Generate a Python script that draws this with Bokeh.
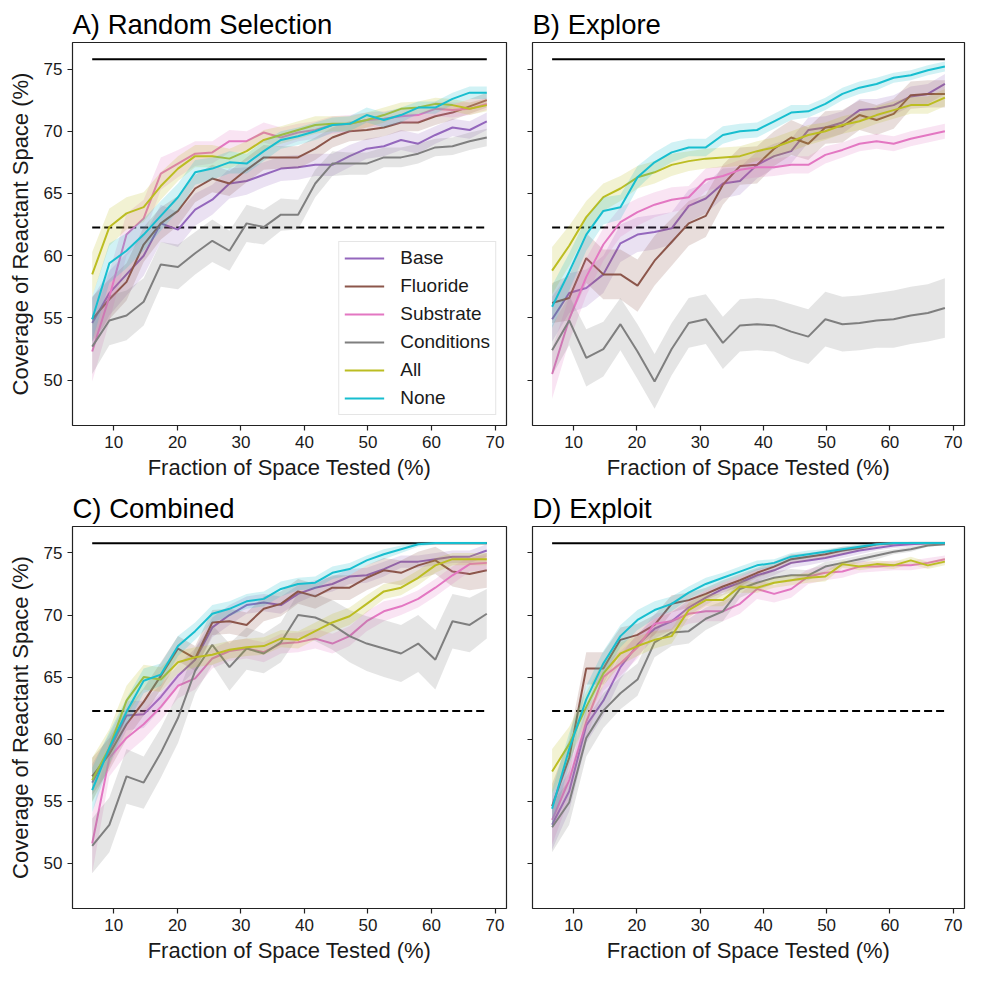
from bokeh.plotting import figure
from bokeh.models import Range1d, Legend, LegendItem, FixedTicker, CustomLabelingPolicy
from bokeh.layouts import column, row
from bokeh.embed import file_html
from bokeh.resources import INLINE

# ---------------- data ----------------
x_tested = [6.6, 9.3, 12.0, 14.7, 17.4, 20.1, 22.8, 25.5, 28.2, 30.9, 33.6, 36.3,
            39.0, 41.7, 44.4, 47.1, 49.8, 52.5, 55.2, 57.9, 60.6, 63.3, 66.0, 68.7]
series_names = ["Base", "Fluoride", "Substrate", "Conditions", "All", "None"]
series_colors = ["#9467bd", "#8c564b", "#e377c2", "#7f7f7f", "#bcbd22", "#17becf"]
x_ticks = [10, 20, 30, 40, 50, 60, 70]
y_ticks = [50, 55, 60, 65, 70, 75]
max_coverage = 75.78
threshold = 62.26

# A) Random Selection
rand_base = [54.6, 57.0, 58.5, 60.0, 62.6, 62.1, 63.7, 64.5, 65.8, 66.0, 66.5, 67.0, 67.1, 67.3, 67.3, 68.0, 68.6, 68.8, 69.3, 69.0, 69.7, 70.3, 70.1, 70.8]
rand_fluoride = [54.9, 56.5, 57.9, 60.9, 62.6, 63.6, 65.4, 66.2, 65.8, 66.9, 67.9, 67.9, 67.9, 68.6, 69.5, 70.0, 70.1, 70.3, 70.7, 70.7, 71.2, 71.5, 72.0, 72.5]
rand_substrate = [52.3, 56.7, 61.7, 63.0, 66.6, 67.4, 68.2, 68.3, 69.2, 69.2, 69.9, 69.5, 69.9, 70.1, 70.5, 70.6, 70.9, 71.0, 71.2, 71.3, 71.8, 71.7, 71.8, 72.2]
rand_conditions = [52.7, 54.8, 55.2, 56.3, 59.3, 59.1, 60.2, 61.2, 60.4, 62.6, 62.3, 63.3, 63.3, 65.8, 67.4, 67.4, 67.4, 67.9, 67.9, 68.2, 68.7, 68.8, 69.2, 69.5]
rand_all = [58.5, 62.3, 63.4, 63.9, 65.6, 67.0, 68.0, 68.0, 67.8, 68.4, 69.3, 69.7, 70.1, 70.5, 70.6, 70.6, 70.9, 71.3, 71.8, 71.9, 72.2, 72.1, 71.8, 72.1]
rand_none = [54.9, 59.4, 60.4, 61.7, 63.2, 64.7, 66.7, 67.0, 67.5, 67.4, 68.4, 69.3, 69.6, 70.0, 70.5, 70.6, 71.3, 70.9, 71.3, 71.9, 71.9, 72.6, 73.1, 73.1]
rand_base_ci = [2.0, 1.8, 1.7, 1.6, 1.5, 1.4, 1.3, 1.2, 1.2, 1.1, 1.0, 1.0, 1.0, 0.9, 0.9, 0.9, 0.8, 0.8, 0.8, 0.8, 0.7, 0.7, 0.7, 0.7]
rand_fluoride_ci = [1.8, 1.6, 1.5, 1.4, 1.3, 1.2, 1.1, 1.1, 1.0, 1.0, 1.0, 0.9, 0.9, 0.9, 0.8, 0.8, 0.8, 0.7, 0.7, 0.7, 0.7, 0.6, 0.6, 0.6]
rand_substrate_ci = [2.4, 2.0, 1.7, 1.5, 1.3, 1.1, 1.0, 0.9, 0.9, 0.8, 0.8, 0.8, 0.7, 0.7, 0.7, 0.7, 0.6, 0.6, 0.6, 0.6, 0.6, 0.6, 0.5, 0.5]
rand_conditions_ci = [2.2, 2.0, 2.0, 1.9, 1.8, 1.8, 1.7, 1.7, 1.6, 1.5, 1.4, 1.3, 1.2, 1.1, 1.0, 0.9, 0.9, 0.8, 0.8, 0.8, 0.7, 0.7, 0.7, 0.7]
rand_all_ci = [1.8, 1.5, 1.3, 1.2, 1.1, 1.0, 0.9, 0.9, 0.8, 0.8, 0.8, 0.7, 0.7, 0.7, 0.6, 0.6, 0.6, 0.6, 0.5, 0.5, 0.5, 0.5, 0.5, 0.5]
rand_none_ci = [1.8, 1.6, 1.4, 1.3, 1.2, 1.1, 1.0, 0.9, 0.9, 0.8, 0.8, 0.7, 0.7, 0.7, 0.6, 0.6, 0.6, 0.6, 0.6, 0.5, 0.5, 0.5, 0.5, 0.5]

# B) Explore
expl_base = [54.9, 57.0, 57.4, 58.5, 61.0, 61.7, 61.9, 62.2, 64.0, 64.6, 65.8, 66.0, 67.3, 68.0, 68.4, 70.1, 70.3, 70.7, 71.7, 71.8, 72.1, 72.8, 73.0, 73.8]
expl_fluoride = [56.2, 56.6, 59.8, 58.5, 58.5, 57.6, 59.6, 61.1, 62.6, 63.2, 65.7, 67.2, 67.3, 68.6, 69.5, 69.0, 70.3, 70.4, 71.3, 70.9, 71.4, 72.9, 73.0, 73.0]
expl_substrate = [50.5, 54.9, 58.3, 60.9, 62.7, 63.5, 64.1, 64.5, 64.7, 66.1, 66.4, 66.9, 67.1, 67.1, 67.3, 67.3, 68.1, 68.5, 69.0, 69.2, 69.0, 69.4, 69.7, 70.0]
expl_conditions = [52.4, 54.8, 51.8, 52.5, 54.5, 52.3, 49.9, 52.5, 54.6, 54.9, 53.0, 54.4, 54.5, 54.4, 53.9, 53.5, 54.9, 54.5, 54.6, 54.8, 54.9, 55.2, 55.4, 55.8]
expl_all = [58.8, 60.8, 63.1, 64.7, 65.4, 66.3, 66.7, 67.3, 67.6, 67.8, 67.9, 68.0, 68.4, 68.7, 69.2, 69.7, 70.0, 70.5, 70.8, 71.3, 71.7, 72.1, 72.1, 72.7]
expl_none = [55.9, 58.7, 61.7, 63.6, 63.9, 66.3, 67.5, 68.3, 68.7, 68.7, 69.7, 70.0, 70.1, 70.8, 71.5, 71.6, 72.2, 73.0, 73.5, 73.8, 74.3, 74.5, 74.9, 75.2]
expl_base_ci = [1.8, 1.6, 1.5, 1.5, 1.5, 1.4, 1.4, 1.3, 1.3, 1.2, 1.2, 1.1, 1.1, 1.0, 1.0, 1.0, 0.9, 0.9, 0.9, 0.8, 0.8, 0.8, 0.8, 0.8]
expl_fluoride_ci = [1.6, 1.8, 2.0, 2.0, 2.0, 2.1, 2.0, 1.9, 1.8, 1.7, 1.6, 1.5, 1.5, 1.4, 1.4, 1.3, 1.3, 1.3, 1.2, 1.2, 1.2, 1.1, 1.1, 1.1]
expl_substrate_ci = [2.0, 1.8, 1.5, 1.3, 1.2, 1.1, 1.0, 1.0, 0.9, 0.9, 0.8, 0.8, 0.8, 0.7, 0.7, 0.7, 0.7, 0.6, 0.6, 0.6, 0.6, 0.6, 0.6, 0.6]
expl_conditions_ci = [2.0, 2.0, 2.3, 2.2, 2.1, 2.2, 2.2, 2.1, 2.0, 2.0, 2.1, 2.1, 2.1, 2.1, 2.2, 2.2, 2.2, 2.2, 2.2, 2.2, 2.3, 2.3, 2.3, 2.4]
expl_all_ci = [1.9, 1.6, 1.3, 1.1, 1.0, 0.9, 0.9, 0.9, 0.8, 0.8, 0.8, 0.8, 0.8, 0.8, 0.8, 0.8, 0.7, 0.7, 0.7, 0.7, 0.7, 0.7, 0.7, 0.7]
expl_none_ci = [1.7, 1.5, 1.3, 1.1, 1.0, 0.9, 0.8, 0.8, 0.7, 0.7, 0.7, 0.6, 0.6, 0.6, 0.6, 0.5, 0.5, 0.5, 0.5, 0.5, 0.4, 0.4, 0.4, 0.4]

# C) Combined
comb_base = [56.5, 59.1, 61.9, 62.0, 63.4, 65.1, 66.4, 69.0, 70.0, 70.8, 71.0, 70.8, 71.7, 72.2, 72.5, 73.1, 73.2, 73.7, 74.3, 74.3, 74.5, 74.7, 74.7, 75.2]
comb_fluoride = [57.0, 58.8, 61.2, 63.0, 65.1, 67.3, 66.5, 69.4, 69.5, 69.2, 70.5, 70.9, 71.9, 71.5, 72.2, 72.2, 73.0, 73.6, 73.4, 74.0, 74.4, 73.5, 73.3, 73.6]
comb_substrate = [51.6, 58.5, 60.1, 61.2, 62.6, 64.3, 64.9, 66.5, 67.1, 67.3, 67.0, 67.7, 67.8, 68.1, 67.7, 68.3, 69.5, 70.3, 70.7, 71.3, 72.2, 73.2, 74.1, 74.2]
comb_conditions = [51.4, 53.1, 57.0, 56.5, 58.9, 61.7, 65.5, 67.6, 65.8, 67.3, 66.9, 67.8, 70.0, 69.8, 69.2, 68.3, 67.7, 67.3, 66.9, 67.7, 66.4, 69.5, 69.2, 70.1]
comb_all = [56.7, 59.3, 63.1, 65.0, 64.8, 66.2, 66.6, 66.8, 67.2, 67.4, 67.5, 68.1, 68.0, 68.7, 69.4, 69.9, 70.9, 71.9, 72.2, 73.0, 74.0, 74.5, 74.5, 74.5]
comb_none = [55.9, 59.3, 62.2, 64.7, 65.2, 67.5, 68.7, 70.1, 70.5, 71.1, 71.3, 72.1, 72.5, 72.6, 73.4, 73.7, 74.4, 74.9, 75.3, 75.7, 75.8, 75.8, 75.8, 75.8]
comb_base_ci = [1.5, 1.3, 1.2, 1.1, 1.0, 0.9, 0.9, 0.8, 0.8, 0.7, 0.7, 0.7, 0.7, 0.6, 0.6, 0.6, 0.6, 0.6, 0.5, 0.5, 0.5, 0.5, 0.5, 0.5]
comb_fluoride_ci = [1.5, 1.3, 1.2, 1.1, 1.1, 1.0, 1.0, 1.0, 1.0, 1.0, 1.0, 1.0, 1.0, 1.0, 1.0, 1.0, 1.0, 1.0, 1.0, 1.1, 1.1, 1.2, 1.3, 1.4]
comb_substrate_ci = [2.4, 1.5, 1.3, 1.2, 1.1, 1.0, 0.9, 0.8, 0.8, 0.8, 0.8, 0.8, 0.8, 0.8, 0.8, 0.8, 0.8, 0.8, 0.7, 0.7, 0.7, 0.7, 0.6, 0.6]
comb_conditions_ci = [2.2, 2.2, 2.2, 2.1, 2.0, 2.0, 1.8, 1.6, 1.9, 1.7, 1.6, 1.6, 1.8, 1.9, 2.0, 2.1, 2.2, 2.3, 2.3, 2.3, 2.4, 2.2, 2.2, 2.0]
comb_all_ci = [1.8, 1.5, 1.2, 1.0, 1.0, 0.9, 0.8, 0.8, 0.7, 0.7, 0.7, 0.7, 0.7, 0.7, 0.7, 0.7, 0.7, 0.6, 0.6, 0.6, 0.6, 0.5, 0.5, 0.5]
comb_none_ci = [1.8, 1.3, 1.1, 1.0, 0.9, 0.8, 0.7, 0.7, 0.6, 0.6, 0.6, 0.6, 0.5, 0.5, 0.5, 0.5, 0.4, 0.4, 0.3, 0.2, 0.1, 0.1, 0.1, 0.1]

# D) Exploit
expt_base = [53.1, 55.8, 61.1, 63.1, 65.8, 67.6, 68.9, 69.5, 70.6, 71.4, 72.1, 72.6, 73.2, 73.6, 74.2, 74.4, 74.6, 74.9, 75.2, 75.4, 75.6, 75.7, 75.8, 75.8]
expt_fluoride = [54.6, 58.5, 65.7, 65.7, 68.0, 68.4, 69.2, 70.9, 71.2, 71.7, 72.3, 72.8, 73.4, 73.9, 74.5, 74.7, 74.9, 75.2, 75.4, 75.7, 75.8, 75.8, 75.8, 75.8]
expt_substrate = [53.5, 56.7, 61.4, 65.0, 66.1, 67.4, 69.3, 69.5, 70.1, 70.3, 70.3, 70.9, 72.1, 71.7, 72.1, 73.1, 73.4, 73.5, 73.9, 73.9, 74.0, 74.0, 74.2, 74.5]
expt_conditions = [52.9, 54.9, 60.1, 62.3, 63.7, 64.8, 67.8, 68.6, 68.7, 69.7, 70.3, 72.1, 72.6, 73.0, 73.2, 73.2, 73.9, 74.2, 74.5, 74.8, 75.1, 75.3, 75.6, 75.7]
expt_all = [57.4, 59.6, 62.6, 65.3, 66.9, 67.5, 68.0, 68.3, 70.4, 71.2, 71.2, 72.3, 72.2, 72.6, 72.8, 73.0, 73.1, 74.1, 73.9, 74.1, 74.0, 74.4, 74.0, 74.3]
expt_none = [54.4, 59.2, 63.2, 66.1, 68.3, 69.6, 70.4, 70.9, 71.8, 72.5, 73.0, 73.5, 74.0, 74.2, 74.7, 74.9, 75.1, 75.3, 75.5, 75.7, 75.8, 75.8, 75.8, 75.8]
expt_base_ci = [2.0, 1.6, 1.4, 1.2, 1.0, 0.9, 0.8, 0.7, 0.6, 0.6, 0.5, 0.5, 0.5, 0.4, 0.4, 0.4, 0.3, 0.3, 0.3, 0.2, 0.2, 0.2, 0.1, 0.1]
expt_fluoride_ci = [1.8, 1.5, 1.3, 1.3, 1.0, 0.9, 0.8, 0.7, 0.6, 0.5, 0.5, 0.5, 0.4, 0.4, 0.4, 0.3, 0.3, 0.3, 0.2, 0.2, 0.1, 0.1, 0.1, 0.1]
expt_substrate_ci = [2.0, 1.5, 1.3, 1.1, 1.0, 0.9, 0.8, 0.8, 0.8, 0.8, 0.8, 0.8, 0.8, 0.7, 0.7, 0.6, 0.6, 0.5, 0.5, 0.4, 0.4, 0.4, 0.4, 0.3]
expt_conditions_ci = [2.0, 1.8, 1.5, 1.4, 1.3, 1.3, 1.2, 1.1, 1.0, 0.9, 0.8, 0.7, 0.6, 0.5, 0.5, 0.4, 0.4, 0.3, 0.3, 0.3, 0.2, 0.2, 0.1, 0.1]
expt_all_ci = [1.8, 1.4, 1.2, 1.0, 0.9, 0.8, 0.7, 0.6, 0.6, 0.5, 0.5, 0.5, 0.4, 0.4, 0.4, 0.4, 0.4, 0.3, 0.3, 0.3, 0.3, 0.3, 0.3, 0.3]
expt_none_ci = [1.5, 1.3, 1.1, 1.0, 0.9, 0.8, 0.7, 0.6, 0.5, 0.5, 0.4, 0.4, 0.4, 0.3, 0.3, 0.3, 0.2, 0.2, 0.2, 0.1, 0.1, 0.1, 0.1, 0.1]

# ---------------- plotting ----------------
FONT = "Liberation Sans"
TXT = "#1a1a1a"


def make_panel(title, means, cis, width, height, left, right, top, bottom,
               y_labels, with_legend):
    p = figure(width=width, height=height, output_backend="svg",
               toolbar_location=None,
               x_range=Range1d(3.5, 71.8), y_range=Range1d(46.36, 77.13),
               min_border_left=left, min_border_right=right,
               min_border_top=top, min_border_bottom=bottom)
    p.background_fill_color = "white"
    p.border_fill_color = "white"
    p.outline_line_color = "#222222"
    p.outline_line_width = 1.2
    p.xgrid.visible = False
    p.ygrid.visible = False

    p.title.text = title
    p.title.text_font = FONT
    p.title.text_font_size = "27.5px"
    p.title.text_font_style = "normal"
    p.title.text_color = "black"
    p.title.align = "left"
    p.title.standoff = 5

    for ax in (p.xaxis, p.yaxis):
        ax.axis_line_color = None
        ax.major_tick_line_color = "#222222"
        ax.major_tick_line_width = 1.2
        ax.major_tick_out = 5
        ax.major_tick_in = 0
        ax.minor_tick_line_color = None
        ax.major_label_text_font = FONT
        ax.major_label_text_font_size = "17px"
        ax.major_label_text_color = TXT
        ax.axis_label_text_font = FONT
        ax.axis_label_text_font_size = "22px"
        ax.axis_label_text_font_style = "normal"
        ax.axis_label_text_color = TXT
    p.xaxis.ticker = FixedTicker(ticks=x_ticks)
    p.yaxis.ticker = FixedTicker(ticks=y_ticks)
    p.xaxis.axis_label = "Fraction of Space Tested (%)"
    p.xaxis.axis_label_standoff = 4
    if y_labels:
        p.yaxis.axis_label = "Coverage of Reactant Space (%)"
        p.yaxis.axis_label_standoff = 8
    else:
        # shared y axis: ticks only, no labels
        p.yaxis.major_label_text_font_size = "0px"
        p.yaxis.major_label_standoff = 0
        p.yaxis.major_label_policy = CustomLabelingPolicy(code="return;")

    # reference lines spanning the tested range
    xs_ref = [x_tested[0], x_tested[-1]]
    p.line(xs_ref, [max_coverage, max_coverage], line_color="black", line_width=2)
    p.line(xs_ref, [threshold, threshold], line_color="black", line_width=2,
           line_dash="8 4")

    items = []
    for name, color, m, c in zip(series_names, series_colors, means, cis):
        lo = [a - b for a, b in zip(m, c)]
        hi = [a + b for a, b in zip(m, c)]
        p.varea(x=x_tested, y1=lo, y2=hi, fill_color=color, fill_alpha=0.2)
        r = p.line(x_tested, m, line_color=color, line_width=2)
        items.append(LegendItem(label=name, renderers=[r]))

    if with_legend:
        leg = Legend(items=items, location="bottom_right")
        leg.label_text_font = FONT
        leg.label_text_font_size = "19px"
        leg.label_text_color = TXT
        leg.glyph_width = 40
        leg.glyph_height = 22
        leg.label_height = 22
        leg.spacing = 6
        leg.padding = 5
        leg.margin = 10
        leg.label_standoff = 16
        leg.border_line_color = "#cccccc"
        leg.border_line_width = 1
        leg.background_fill_color = "white"
        leg.background_fill_alpha = 0.85
        p.add_layout(leg)
    return p


pA = make_panel("A) Random Selection",
                [rand_base, rand_fluoride, rand_substrate, rand_conditions, rand_all, rand_none],
                [rand_base_ci, rand_fluoride_ci, rand_substrate_ci, rand_conditions_ci, rand_all_ci, rand_none_ci],
                518, 482, 72, 12, 42, 54, True, True)
pB = make_panel("B) Explore",
                [expl_base, expl_fluoride, expl_substrate, expl_conditions, expl_all, expl_none],
                [expl_base_ci, expl_fluoride_ci, expl_substrate_ci, expl_conditions_ci, expl_all_ci, expl_none_ci],
                448, 482, 14, 2, 42, 54, False, False)
pC = make_panel("C) Combined",
                [comb_base, comb_fluoride, comb_substrate, comb_conditions, comb_all, comb_none],
                [comb_base_ci, comb_fluoride_ci, comb_substrate_ci, comb_conditions_ci, comb_all_ci, comb_none_ci],
                518, 483, 72, 12, 44, 53, True, False)
pD = make_panel("D) Exploit",
                [expt_base, expt_fluoride, expt_substrate, expt_conditions, expt_all, expt_none],
                [expt_base_ci, expt_fluoride_ci, expt_substrate_ci, expt_conditions_ci, expt_all_ci, expt_none_ci],
                448, 483, 14, 2, 44, 53, False, False)

layout = column(row(pA, pB), row(pC, pD))
open("out.html", "w").write(file_html(layout, INLINE))
